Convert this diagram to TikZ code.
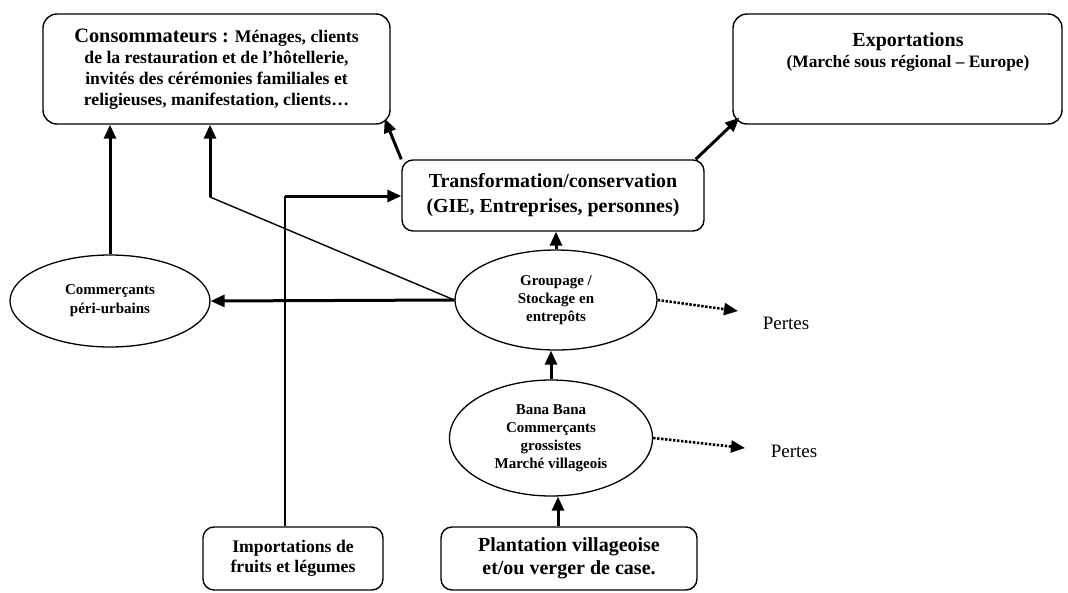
\documentclass[tikz,border=0pt]{standalone}
\usepackage{fontspec}
\setmainfont{Liberation Serif}
\usetikzlibrary{shapes.geometric,arrows.meta}
\begin{document}
\begin{tikzpicture}[x=1pt,y=-1pt,
 box/.style={draw,line width=1.4pt,rounded corners=14pt,inner sep=0pt,align=center,font=\bfseries},
 ell/.style={draw,ellipse,line width=1.3pt,inner sep=0pt,align=center,font=\bfseries\fontsize{15}{18}\selectfont},
 flow/.style={line width=3pt,-{Triangle[length=14pt,width=12pt]}},
 thinline/.style={line width=1.4pt},
 loss/.style={line width=2.6pt,dash pattern=on 2.4pt off 1.6pt,-{Triangle[length=14pt,width=12pt]}},
 lbl/.style={font=\fontsize{19}{22}\selectfont,inner sep=0pt}
]
\useasboundingbox (0,0) rectangle (1068,592);

% boxes
\node[box,minimum width=347pt,minimum height=110pt,font=\bfseries\fontsize{17.7}{21}\selectfont] (conso) at (216.5,69)
 {{\fontsize{20.4}{21}\selectfont Consommateurs :} Ménages, clients\\de la restauration et de l’hôtellerie,\\invités des cérémonies familiales et\\religieuses, manifestation, clients…};
\node[box,minimum width=329pt,minimum height=110pt] (exp) at (897.5,69) {};
\node[align=center,inner sep=0pt,font=\bfseries\fontsize{17.4}{21}\selectfont] (exptxt) at (908,52)
 {{\fontsize{20}{21}\selectfont Exportations}\\(Marché sous régional – Europe)};
\node[box,rounded corners=11pt,minimum width=302pt,minimum height=71pt,font=\bfseries\fontsize{19.9}{25}\selectfont] (trans) at (553,195.5)
 {Transformation/conservation\\(GIE, Entreprises, personnes)};
\node[box,rounded corners=11pt,minimum width=180pt,minimum height=63pt,font=\bfseries\fontsize{17.7}{20}\selectfont] (imp) at (293,558.5)
 {Importations de\\fruits et légumes};
\node[box,rounded corners=11pt,minimum width=256pt,minimum height=63pt,font=\bfseries\fontsize{20}{23}\selectfont] (plant) at (569,558.5)
 {Plantation villageoise\\et/ou verger de case.};

% ellipses
\node[ell,minimum width=200pt,minimum height=92pt,font=\bfseries\fontsize{15}{19}\selectfont] (comm) at (110,301)
 {Commerçants\\péri-urbains};
\node[ell,minimum width=202pt,minimum height=100pt] (grp) at (556,300)
 {Groupage /\\Stockage en\\entrepôts};
\node[ell,minimum width=203pt,minimum height=116pt] (bana) at (551,438)
 {Bana Bana\\Commerçants\\grossistes\\Marché villageois};

% losses
\coordinate (l1) at (738,311);
\coordinate (l2) at (745,448);
\node[lbl] (pertes1) at (786,323) {Pertes};
\node[lbl] (pertes2) at (794,451) {Pertes};
\draw[loss] (grp.east) -- (l1);
\draw[loss] (bana.east) -- (l2);

% connectors
\coordinate (c1) at (210,197);
\coordinate (c2) at (285,196);
\draw[thinline] (grp.west) -- (c1);
\draw[flow] (c1) -- (c1 |- conso.south);
\draw[flow] (comm.north) -- (comm.north |- conso.south);
\draw[flow] (grp.west) -- (comm.east);
\draw[line width=1.6pt] (imp.north -| c2) -- (c2);
\draw[flow] (c2) -- (c2 -| trans.west);
\draw[flow] (grp.north) -- (grp.north |- trans.south);
\draw[flow] (bana.north) -- (bana.north |- grp.south);
\draw[flow] ([xshift=-11pt]plant.north) -- ([xshift=-11pt]plant.north |- bana.south);
\draw[flow] (trans.north west) -- ([shift={(-6,-6)}]conso.south east);
\draw[flow] ([xshift=-9pt]trans.north east) -- ([shift={(7,-7)}]exp.south west);
\end{tikzpicture}
\end{document}
